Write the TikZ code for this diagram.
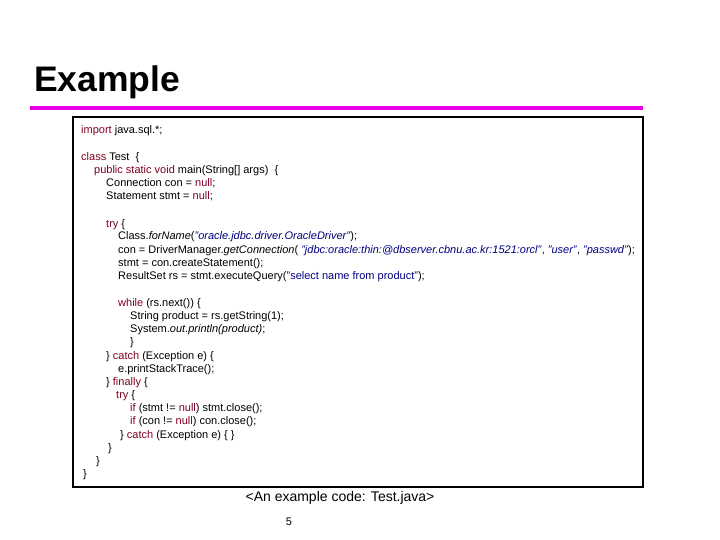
\documentclass[tikz,border=0pt]{standalone}
\usepackage{fontspec}
\setmainfont{Liberation Sans}
\definecolor{kwred}{RGB}{128,0,32}
\definecolor{strblue}{RGB}{0,0,128}
\definecolor{mag}{RGB}{230,0,230}
\newcommand{\jkw}[1]{\textcolor{kwred}{#1}}
\newcommand{\jstr}[1]{\textcolor{strblue}{#1}}
\begin{document}
\begin{tikzpicture}[x=1pt,y=-1pt,
  code/.style={anchor=base west,inner sep=0pt,font=\fontsize{11}{12}\selectfont}]
\useasboundingbox (0,0) rectangle (720,540);
\node[anchor=base west,inner sep=0pt,font=\fontsize{35.5}{38}\selectfont\bfseries] (title) at (34,92) {Example};
\draw[mag,line width=4pt] (30,108) -- (643,108);
\draw[line width=2pt] (73,117) rectangle (643,487);
\node[code] (l1) at (81,134) {\jkw{import} java.sql.*;};
\node[code] (l3) at (81,161) {\jkw{class} Test~~\{};
\node[code] (l4) at (94,174) {\jkw{public static void} main(String[] args)~~\{};
\node[code] (l5) at (106,187) {Connection con = \jkw{null};};
\node[code] (l6) at (106,200) {Statement stmt = \jkw{null};};
\node[code] (l8) at (106,227) {\jkw{try} \{};
\node[code] (l9) at (118,240) {Class.\textit{forName}(\jstr{\textit{"oracle.jdbc.driver.OracleDriver"}});};
\node[code] (l10) at (118,253) {con = DriverManager.\textit{getConnection}( \jstr{\textit{"jdbc:oracle:thin:@dbserver.cbnu.ac.kr:1521:orcl"}}, \jstr{\textit{"user"}}, \jstr{\textit{"passwd"}});};
\node[code] (l11) at (118,266) {stmt = con.createStatement();};
\node[code] (l12) at (118,279) {ResultSet rs = stmt.executeQuery(\jstr{"select name from product"});};
\node[code] (l15) at (118,306) {\jkw{while} (rs.next()) \{};
\node[code] (l16) at (130,319) {String product = rs.getString(1);};
\node[code] (l17) at (130,332) {System.\textit{out}.\textit{println(product)};};
\node[code] (l18) at (130,345) {\}};
\node[code] (l19) at (106,359) {\} \jkw{catch} (Exception e) \{};
\node[code] (l20) at (118,372) {e.printStackTrace();};
\node[code] (l21) at (106,385) {\} \jkw{finally} \{};
\node[code] (l22) at (116,398) {\jkw{try} \{};
\node[code] (l23) at (130,411) {\jkw{if} (stmt != \jkw{null}) stmt.close();};
\node[code] (l24) at (130,424) {\jkw{if} (con != \jkw{null}) con.close();};
\node[code] (l25) at (120,438) {\} \jkw{catch} (Exception e) \{ \}};
\node[code] (l26) at (108,451) {\}};
\node[code] (l27) at (96,464) {\}};
\node[code] (l28) at (83,477) {\}};
\node[anchor=base,inner sep=0pt,font=\fontsize{14}{16}\selectfont] (cap) at (340,501) {<An example code: Test.java>};
\node[anchor=base,inner sep=0pt,font=\fontsize{11}{12}\selectfont] (pg) at (289,525) {5};
\end{tikzpicture}
\end{document}
